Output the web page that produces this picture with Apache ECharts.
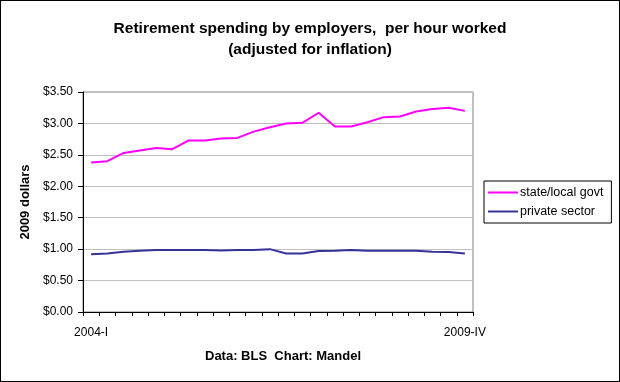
<!DOCTYPE html>
<html>
<head>
<meta charset="utf-8">
<script src="https://cdn.jsdelivr.net/npm/echarts@6/dist/echarts.min.js"></script>
<style>
html,body{margin:0;padding:0;background:#fff;}
#wrap{position:relative;width:620px;height:382px;}
#c{width:620px;height:382px;}
#border{position:absolute;left:0;top:0;width:618px;height:380px;border:1px solid #000;pointer-events:none;}
</style>
</head>
<body>
<div id="wrap"><div id="c"></div><div id="border"></div></div>
<script>
const quarters = ['2004-I','2004-II','2004-III','2004-IV','2005-I','2005-II','2005-III','2005-IV','2006-I','2006-II','2006-III','2006-IV','2007-I','2007-II','2007-III','2007-IV','2008-I','2008-II','2008-III','2008-IV','2009-I','2009-II','2009-III','2009-IV'];
const stateLocal = [2.38,2.40,2.53,2.57,2.61,2.59,2.73,2.73,2.76,2.77,2.87,2.94,3.00,3.01,3.17,2.95,2.95,3.02,3.10,3.11,3.19,3.23,3.25,3.20];
const privateSector = [0.92,0.93,0.96,0.975,0.985,0.985,0.985,0.985,0.98,0.985,0.985,1.00,0.93,0.93,0.97,0.975,0.985,0.975,0.975,0.975,0.975,0.96,0.955,0.93];
const yTicks = [0,0.5,1,1.5,2,2.5,3,3.5];

const FF = 'Liberation Sans, Arial, sans-serif';
const chart = echarts.init(document.getElementById('c'), null, {renderer:'canvas'});
chart.setOption({
  animation:false,
  backgroundColor:'#fff',
  textStyle:{fontFamily:FF},
  title:[
    {text:'Retirement spending by employers,  per hour worked', left:'center', top:16,
     textStyle:{fontSize:15.5, fontWeight:'bold', color:'#000', fontFamily:FF}},
    {text:'(adjusted for inflation)', left:'center', top:37,
     textStyle:{fontSize:15.5, fontWeight:'bold', color:'#000', fontFamily:FF}},
    {text:'Data: BLS  Chart: Mandel', left:278, textAlign:'center', top:345,
     textStyle:{fontSize:13, fontWeight:'bold', color:'#000', fontFamily:FF}}
  ],
  grid:{left:83, right:147, top:92, bottom:70, show:true, borderColor:'#808080', borderWidth:1, backgroundColor:'#fff'},
  legend:{
    orient:'vertical', left:484, top:181, itemWidth:30, itemHeight:2, itemGap:6,
    padding:[5,8,5,4], borderColor:'#000', borderWidth:1,
    icon:'rect',
    textStyle:{fontSize:12.5, color:'#000', padding:[0,0,0,-3]},
    data:['state/local govt','private sector']
  },
  xAxis:{
    type:'category', data:quarters, boundaryGap:true,
    axisLine:{lineStyle:{color:'#000', width:1}},
    axisTick:{show:true, interval:0, length:4, lineStyle:{color:'#000'}},
    axisLabel:{interval:function(i){return i===0||i===quarters.length-1;}, fontSize:12, color:'#000', margin:15},
    splitLine:{show:false}
  },
  yAxis:{
    type:'value', min:yTicks[0], max:yTicks[yTicks.length-1], interval:0.5,
    name:'2009 dollars', nameLocation:'middle', nameGap:50,
    nameTextStyle:{fontSize:13, fontWeight:'bold', color:'#000'},
    axisLine:{show:true, lineStyle:{color:'#000', width:1}},
    axisTick:{show:true, length:5, lineStyle:{color:'#000'}},
    axisLabel:{formatter:function(v){return '$'+v.toFixed(2);}, fontSize:12, color:'#000', margin:10},
    splitLine:{show:true, lineStyle:{color:'#c0c0c0', width:1}}
  },
  series:[
    {name:'state/local govt', type:'line', data:stateLocal, symbol:'none', smooth:false,
     lineStyle:{color:'#ff00ff', width:2}, itemStyle:{color:'#ff00ff'}},
    {name:'private sector', type:'line', data:privateSector, symbol:'none', smooth:false,
     lineStyle:{color:'#333399', width:2}, itemStyle:{color:'#333399'}}
  ]
});
</script>
</body>
</html>
